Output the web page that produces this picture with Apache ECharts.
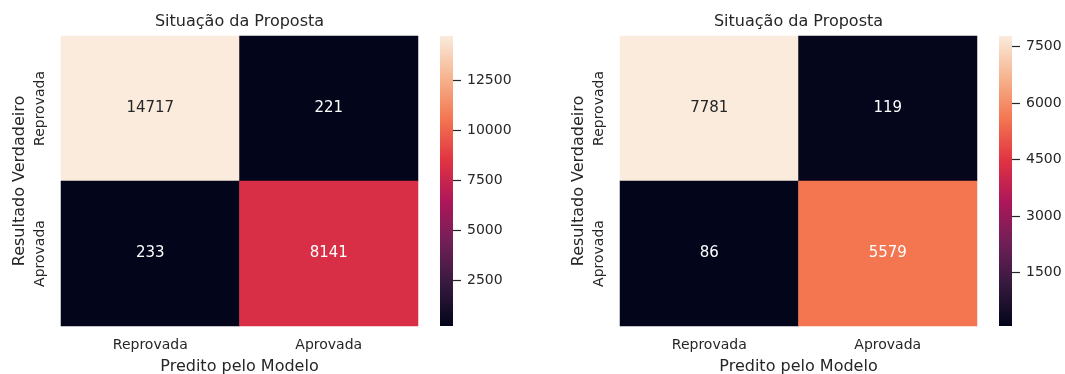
<!DOCTYPE html>
<html>
<head>
<meta charset="utf-8">
<script src="https://cdn.jsdelivr.net/npm/echarts@6/dist/echarts.min.js"></script>
<style>
  html, body { margin: 0; padding: 0; background: #fff; }
  #chart { width: 1065px; height: 374px; }
</style>
</head>
<body>
<div id="chart"></div>
<script>
// confusion matrices (rows = true class, cols = predicted class)
const classes = ['Reprovada', 'Aprovada']
const matrixLeft = [[14717, 221], [233, 8141]]
const matrixRight = [[7781, 119], [86, 5579]]
const ticksLeft = [2500, 5000, 7500, 10000, 12500]
const ticksRight = [1500, 3000, 4500, 6000, 7500]
const titleText = 'Situação da Proposta'
const xName = 'Predito pelo Modelo'
const yName = 'Resultado Verdadeiro'

// seaborn "rocket", evenly spaced stops
const rocket = ['#03051a', '#35193e', '#701f57', '#ad1759', '#e13342', '#f37651', '#f6b48f', '#faebdd']

const FONT = "'DejaVu Sans', sans-serif"
const INK = '#262626'

function cells(matrix) {
  const flat = matrix.flat()
  const lo = Math.min(...flat), hi = Math.max(...flat)
  const out = []
  matrix.forEach((row, r) => row.forEach((v, c) => {
    const t = (v - lo) / (hi - lo)
    out.push({ value: [c, r, v], label: { color: t > 0.8 ? INK : '#ffffff' } })
  }))
  return { data: out, lo, hi }
}

const panels = [
  { m: matrixLeft, ticks: ticksLeft, left: 61, barLeft: 440 },
  { m: matrixRight, ticks: ticksRight, left: 620, barLeft: 999 }
]
const W = 357, TOP = 36, H = 290, BAR_W = 13

const option = { animation: false, textStyle: { fontFamily: FONT }, grid: [], xAxis: [], yAxis: [], series: [], visualMap: [], graphic: [] }

panels.forEach((p, i) => {
  const c = cells(p.m)
  const g = i * 2
  option.grid.push({ left: p.left, top: TOP, width: W, height: H, outerBoundsMode: 'none' })
  // thin grid on the right edge of the colorbar, carries its axis
  option.grid.push({ left: p.barLeft + BAR_W, top: TOP, width: 1, height: H, outerBoundsMode: 'none' })

  option.xAxis.push({
    type: 'category', gridIndex: g, data: classes,
    axisLine: { show: false }, axisTick: { show: false }, splitArea: { show: false },
    axisLabel: { color: INK, fontSize: 14, margin: 12, fontFamily: FONT },
    name: xName, nameLocation: 'middle', nameGap: 33,
    nameTextStyle: { color: INK, fontSize: 16, fontFamily: FONT }
  })
  option.yAxis.push({
    type: 'category', gridIndex: g, data: classes, inverse: true,
    axisLine: { show: false }, axisTick: { show: false }, splitArea: { show: false },
    axisLabel: { color: INK, fontSize: 14, margin: 14, rotate: 90, fontFamily: FONT },
    name: yName, nameLocation: 'middle', nameGap: 33,
    nameTextStyle: { color: INK, fontSize: 16, fontFamily: FONT }
  })
  // colorbar axis
  option.xAxis.push({ type: 'value', gridIndex: g + 1, show: false })
  option.yAxis.push({
    type: 'value', gridIndex: g + 1, position: 'left', min: c.lo, max: c.hi,
    axisLine: { show: false }, splitLine: { show: false },
    axisTick: { show: true, inside: true, length: 8, lineStyle: { color: INK, width: 1.2 }, customValues: p.ticks },
    axisLabel: { color: INK, fontSize: 14, margin: 14, inside: true, fontFamily: FONT, customValues: p.ticks, formatter: v => String(v) }
  })

  option.series.push({
    type: 'heatmap', xAxisIndex: g, yAxisIndex: g, data: c.data,
    label: { show: true, fontSize: 15, fontFamily: FONT },
    emphasis: { disabled: true }
  })
  option.visualMap.push({
    type: 'continuous', seriesIndex: i, min: c.lo, max: c.hi,
    show: false, inRange: { color: rocket }
  })
  // colorbar gradient
  option.graphic.push({
    type: 'rect', z: -10, shape: { x: p.barLeft, y: TOP, width: BAR_W, height: H }, silent: true,
    style: {
      fill: new echarts.graphic.LinearGradient(0, 1, 0, 0,
        rocket.map((col, k) => ({ offset: k / (rocket.length - 1), color: col })))
    }
  })
  option.graphic.push({
    type: 'text', x: p.left + W / 2, y: 22,
    style: { text: titleText, fill: INK, font: '16px ' + FONT, textAlign: 'center', textVerticalAlign: 'middle' }
  })
})

const chart = echarts.init(document.getElementById('chart'))
chart.setOption(option)
</script>
</body>
</html>
